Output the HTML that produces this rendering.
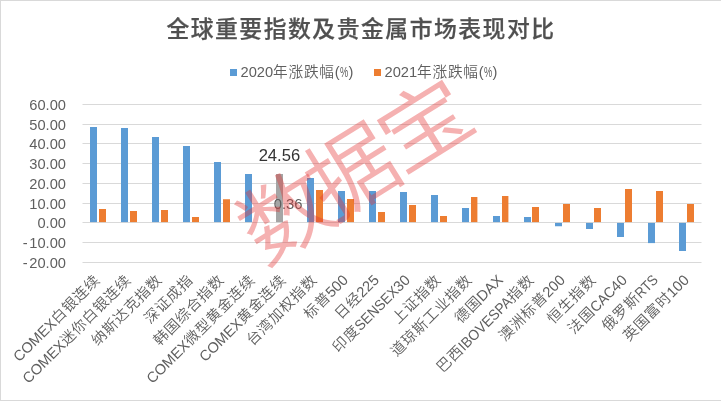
<!DOCTYPE html>
<html lang="zh-CN"><head><meta charset="utf-8"><title>全球重要指数及贵金属市场表现对比</title>
<style>
html,body{margin:0;padding:0;background:#fff;}
body{width:721px;height:401px;overflow:hidden;}
svg{display:block;will-change:transform;}
text{font-family:"Liberation Sans","Noto Sans CJK SC",sans-serif;}
.c{letter-spacing:0.75px;font-weight:350;}
</style></head><body>
<svg width="721" height="401" viewBox="0 0 721 401">
<rect x="0" y="0" width="721" height="401" fill="#fff"/>
<rect x="0" y="0" width="721" height="1" fill="#d9d9d9"/>
<rect x="0" y="0" width="1" height="401" fill="#d9d9d9"/>
<rect x="0" y="400" width="721" height="1" fill="#d9d9d9"/>

<rect x="82.5" y="104.0" width="619" height="1" fill="#d9d9d9"/>
<rect x="82.5" y="124.0" width="619" height="1" fill="#d9d9d9"/>
<rect x="82.5" y="143.0" width="619" height="1" fill="#d9d9d9"/>
<rect x="82.5" y="163.0" width="619" height="1" fill="#d9d9d9"/>
<rect x="82.5" y="183.0" width="619" height="1" fill="#d9d9d9"/>
<rect x="82.5" y="203.0" width="619" height="1" fill="#d9d9d9"/>
<rect x="82.5" y="222.0" width="619" height="1" fill="#d9d9d9"/>
<rect x="82.5" y="242.0" width="619" height="1" fill="#d9d9d9"/>
<rect x="82.5" y="262.0" width="619" height="1" fill="#d9d9d9"/>
<text x="361" y="36.5" text-anchor="middle" font-size="22.8" font-weight="500" fill="#505050" stroke="#505050" stroke-width="0.25" letter-spacing="1.53">全球重要指数及贵金属市场表现对比</text>
<rect x="230" y="69" width="7" height="7" fill="#5b9bd5"/>
<text x="240.5" y="77" font-size="14.67" fill="#5f5f5f">2020<tspan class="c">年涨跌幅</tspan>(</text>
<text transform="translate(340.1,77) scale(0.63,1)" font-size="14.67" fill="#5f5f5f">%</text>
<text x="348.5" y="77" font-size="14.67" fill="#5f5f5f">)</text>
<rect x="374" y="69" width="7" height="7" fill="#ed7d31"/>
<text x="384.5" y="77" font-size="14.67" fill="#5f5f5f">2021<tspan class="c">年涨跌幅</tspan>(</text>
<text transform="translate(484.1,77) scale(0.63,1)" font-size="14.67" fill="#5f5f5f">%</text>
<text x="492.5" y="77" font-size="14.67" fill="#5f5f5f">)</text>
<text x="66" y="109.8" text-anchor="end" font-size="14.67" fill="#5f5f5f">60.00</text>
<text x="66" y="129.8" text-anchor="end" font-size="14.67" fill="#5f5f5f">50.00</text>
<text x="66" y="148.8" text-anchor="end" font-size="14.67" fill="#5f5f5f">40.00</text>
<text x="66" y="168.8" text-anchor="end" font-size="14.67" fill="#5f5f5f">30.00</text>
<text x="66" y="188.8" text-anchor="end" font-size="14.67" fill="#5f5f5f">20.00</text>
<text x="66" y="208.8" text-anchor="end" font-size="14.67" fill="#5f5f5f">10.00</text>
<text x="66" y="227.8" text-anchor="end" font-size="14.67" fill="#5f5f5f">0.00</text>
<text x="66" y="247.8" text-anchor="end" font-size="14.67" fill="#5f5f5f"><tspan letter-spacing="1.8">-</tspan>10.00</text>
<text x="66" y="267.8" text-anchor="end" font-size="14.67" fill="#5f5f5f"><tspan letter-spacing="1.8">-</tspan>20.00</text>
<rect x="90" y="127" width="7" height="95.1" fill="#5b9bd5"/>
<rect x="99" y="209" width="7" height="13.1" fill="#ed7d31"/>
<rect x="121" y="128" width="7" height="94.1" fill="#5b9bd5"/>
<rect x="130" y="211" width="7" height="11.1" fill="#ed7d31"/>
<rect x="152" y="137" width="7" height="85.1" fill="#5b9bd5"/>
<rect x="161" y="210" width="7" height="12.1" fill="#ed7d31"/>
<rect x="183" y="146" width="7" height="76.1" fill="#5b9bd5"/>
<rect x="192" y="217" width="7" height="5.1" fill="#ed7d31"/>
<rect x="214" y="162" width="7" height="60.1" fill="#5b9bd5"/>
<rect x="223" y="199.25" width="7" height="22.85" fill="#ed7d31"/>
<rect x="245" y="174" width="7" height="48.1" fill="#5b9bd5"/>
<rect x="276" y="174" width="7" height="48.1" fill="#a5a5a5"/>
<rect x="307" y="178" width="7" height="44.1" fill="#5b9bd5"/>
<rect x="316" y="190" width="7" height="32.1" fill="#ed7d31"/>
<rect x="338" y="191" width="7" height="31.1" fill="#5b9bd5"/>
<rect x="347" y="199" width="7" height="23.1" fill="#ed7d31"/>
<rect x="369" y="191" width="7" height="31.1" fill="#5b9bd5"/>
<rect x="378" y="212" width="7" height="10.1" fill="#ed7d31"/>
<rect x="400" y="192" width="7" height="30.1" fill="#5b9bd5"/>
<rect x="409" y="205" width="7" height="17.1" fill="#ed7d31"/>
<rect x="431" y="195" width="7" height="27.1" fill="#5b9bd5"/>
<rect x="440" y="216" width="7" height="6.1" fill="#ed7d31"/>
<rect x="462" y="208" width="7" height="14.1" fill="#5b9bd5"/>
<rect x="471" y="197" width="6.4" height="25.1" fill="#ed7d31"/>
<rect x="493" y="216" width="7" height="6.1" fill="#5b9bd5"/>
<rect x="502" y="196" width="6.4" height="26.1" fill="#ed7d31"/>
<rect x="524" y="217" width="7" height="5.1" fill="#5b9bd5"/>
<rect x="532" y="207" width="7" height="15.1" fill="#ed7d31"/>
<rect x="555" y="222.9" width="7" height="3.35" fill="#5b9bd5"/>
<rect x="563" y="204" width="7" height="18.1" fill="#ed7d31"/>
<rect x="586" y="222.9" width="7" height="6.1" fill="#5b9bd5"/>
<rect x="594" y="208" width="7" height="14.1" fill="#ed7d31"/>
<rect x="617" y="222.9" width="7" height="14.1" fill="#5b9bd5"/>
<rect x="625" y="189" width="7" height="33.1" fill="#ed7d31"/>
<rect x="648" y="222.9" width="7" height="20.2" fill="#5b9bd5"/>
<rect x="656" y="191" width="7" height="31.1" fill="#ed7d31"/>
<rect x="679" y="222.9" width="7" height="28.1" fill="#5b9bd5"/>
<rect x="687" y="204" width="7" height="18.1" fill="#ed7d31"/>
<text transform="translate(100.9,280.9) rotate(-45)" text-anchor="end" font-size="14.67" fill="#5f5f5f">COMEX<tspan class="c">白银连续</tspan></text>
<text transform="translate(131.9,280.9) rotate(-45)" text-anchor="end" font-size="14.67" fill="#5f5f5f">COMEX<tspan class="c">迷你白银连续</tspan></text>
<text transform="translate(162.9,280.9) rotate(-45)" text-anchor="end" font-size="14.67" fill="#5f5f5f"><tspan class="c">纳斯达克指数</tspan></text>
<text transform="translate(193.9,280.9) rotate(-45)" text-anchor="end" font-size="14.67" fill="#5f5f5f"><tspan class="c">深证成指</tspan></text>
<text transform="translate(224.9,280.9) rotate(-45)" text-anchor="end" font-size="14.67" fill="#5f5f5f"><tspan class="c">韩国综合指数</tspan></text>
<text transform="translate(255.9,280.9) rotate(-45)" text-anchor="end" font-size="14.67" fill="#5f5f5f">COMEX<tspan class="c">微型黄金连续</tspan></text>
<text transform="translate(286.9,280.9) rotate(-45)" text-anchor="end" font-size="14.67" fill="#5f5f5f">COMEX<tspan class="c">黄金连续</tspan></text>
<text transform="translate(317.9,280.9) rotate(-45)" text-anchor="end" font-size="14.67" fill="#5f5f5f"><tspan class="c">台湾加权指数</tspan></text>
<text transform="translate(348.9,280.9) rotate(-45)" text-anchor="end" font-size="14.67" fill="#5f5f5f"><tspan class="c">标普</tspan>500</text>
<text transform="translate(379.9,280.9) rotate(-45)" text-anchor="end" font-size="14.67" fill="#5f5f5f"><tspan class="c">日经</tspan>225</text>
<text transform="translate(410.9,280.9) rotate(-45)" text-anchor="end" font-size="14.67" fill="#5f5f5f"><tspan class="c">印度</tspan><tspan textLength="55.11" lengthAdjust="spacingAndGlyphs">SENSEX</tspan>30</text>
<text transform="translate(441.9,280.9) rotate(-45)" text-anchor="end" font-size="14.67" fill="#5f5f5f"><tspan class="c">上证指数</tspan></text>
<text transform="translate(472.9,280.9) rotate(-45)" text-anchor="end" font-size="14.67" fill="#5f5f5f"><tspan class="c">道琼斯工业指数</tspan></text>
<text transform="translate(503.9,280.9) rotate(-45)" text-anchor="end" font-size="14.67" fill="#5f5f5f"><tspan class="c">德国</tspan>DAX</text>
<text transform="translate(534.9,280.9) rotate(-45)" text-anchor="end" font-size="14.67" fill="#5f5f5f"><tspan class="c">巴西</tspan><tspan textLength="68.94" lengthAdjust="spacingAndGlyphs">IBOVESPA</tspan><tspan class="c">指数</tspan></text>
<text transform="translate(565.9,280.9) rotate(-45)" text-anchor="end" font-size="14.67" fill="#5f5f5f"><tspan class="c">澳洲标普</tspan>200</text>
<text transform="translate(596.9,280.9) rotate(-45)" text-anchor="end" font-size="14.67" fill="#5f5f5f"><tspan class="c">恒生指数</tspan></text>
<text transform="translate(627.9,280.9) rotate(-45)" text-anchor="end" font-size="14.67" fill="#5f5f5f"><tspan class="c">法国</tspan><tspan textLength="28.96" lengthAdjust="spacingAndGlyphs">CAC</tspan>40</text>
<text transform="translate(658.9,280.9) rotate(-45)" text-anchor="end" font-size="14.67" fill="#5f5f5f"><tspan class="c">俄罗斯</tspan><tspan textLength="25.59" lengthAdjust="spacingAndGlyphs">RTS</tspan></text>
<text transform="translate(689.9,280.9) rotate(-45)" text-anchor="end" font-size="14.67" fill="#5f5f5f"><tspan class="c">英国富时</tspan>100</text>
<text x="279.4" y="160.6" text-anchor="middle" font-size="16.6" fill="#333">24.56</text>
<text x="288.1" y="208.8" text-anchor="middle" font-size="14.8" fill="#5f5f5f">0.36</text>
<g transform="translate(353.2,170.5) rotate(-31.9)" font-size="90" font-weight="350" fill="#e63232" fill-opacity="0.38" text-anchor="middle">
<text transform="translate(-81.2,4.4) scale(1.03,0.96)" dominant-baseline="central">数</text>
<text transform="translate(-1.4,2) scale(0.99,0.985)" dominant-baseline="central">据</text>
<text transform="translate(85,0) scale(1.03,0.92)" dominant-baseline="central">宝</text>
</g>
</svg></body></html>
